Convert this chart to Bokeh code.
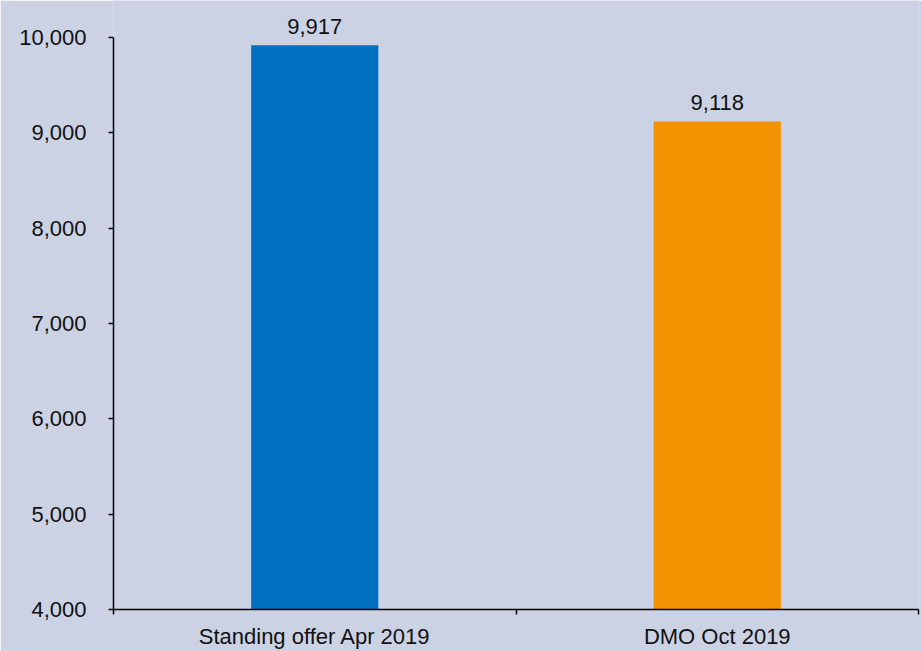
from bokeh.plotting import figure
from bokeh.models import ColumnDataSource, FixedTicker, Range1d, NumeralTickFormatter, LabelSet
from bokeh.core.properties import value
from bokeh.embed import file_html
from bokeh.resources import INLINE

categories = ["Standing offer Apr 2019", "DMO Oct 2019"]
values = [9917, 9118]
colors = ["#0070C0", "#F39200"]
y_ticks = [4000, 5000, 6000, 7000, 8000, 9000, 10000]

BG = "#CBD2E4"
FONT = "Liberation Sans"
FS = "22px"

xs = [i + 0.5 for i in range(len(categories))]
labels = [f"{v:,}" for v in values]
src = ColumnDataSource(dict(x=xs, top=values, color=colors, label=labels))

y_min, y_max = y_ticks[0], y_ticks[-1]
# frame spans to the top edge; the axis itself is bounded to 4000..10000
y_end = y_max + 37 * (y_max - y_min) / 574

p = figure(width=922, height=651, output_backend="svg", toolbar_location=None,
           x_range=Range1d(0, len(categories)), y_range=Range1d(y_min, y_end),
           background_fill_color=BG, border_fill_color=BG,
           min_border_left=113, min_border_top=0, min_border_bottom=40, min_border_right=4)
p.outline_line_color = None
p.grid.visible = False

p.vbar(x="x", top="top", bottom=y_min, width=0.316, color="color", source=src, line_color=None)

p.add_layout(LabelSet(x="x", y="top", text="label", source=src, text_align="center",
                      text_baseline="bottom", y_offset=11, text_font=value(FONT),
                      text_font_size=FS, text_color="#111111"))

# y axis
ya = p.yaxis[0]
ya.ticker = FixedTicker(ticks=y_ticks)
ya.bounds = (y_min, y_max)
ya.formatter = NumeralTickFormatter(format="0,0")
ya.axis_line_color = "black"
ya.axis_line_width = 1.5
ya.major_tick_in = 0
ya.major_tick_out = 5
ya.major_tick_line_width = 1.5
ya.minor_tick_line_color = None
ya.major_label_text_font = FONT
ya.major_label_text_font_size = FS
ya.major_label_text_color = "#111111"
ya.major_label_standoff = 22

# x axis
xa = p.xaxis[0]
xa.ticker = FixedTicker(ticks=xs, minor_ticks=list(range(len(categories) + 1)))
xa.major_label_overrides = {x: c for x, c in zip(xs, categories)}
xa.axis_line_color = "black"
xa.axis_line_width = 1.5
xa.major_tick_line_color = None
xa.minor_tick_in = 0
xa.minor_tick_out = 5
xa.minor_tick_line_width = 1.5
xa.minor_tick_line_color = "black"
xa.major_label_text_font = FONT
xa.major_label_text_font_size = FS
xa.major_label_text_color = "#111111"
xa.major_label_standoff = 8

open("out.html", "w").write(file_html(p, INLINE))
